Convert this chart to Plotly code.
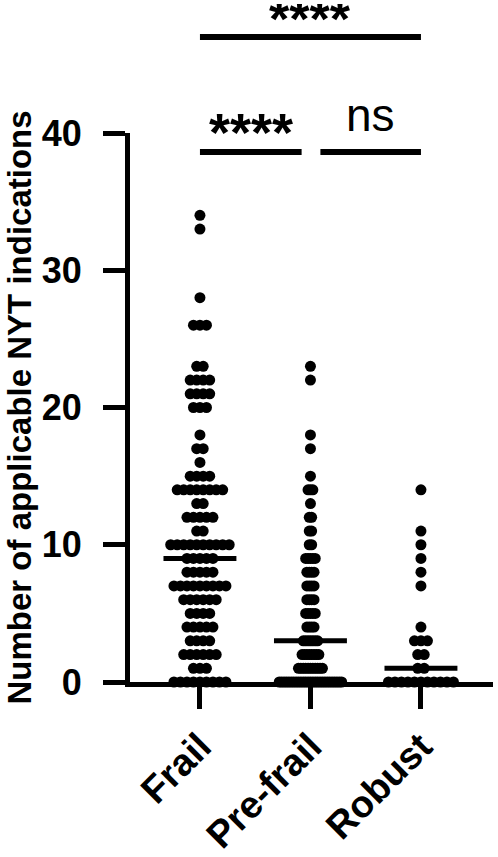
import numpy as np
import plotly.graph_objects as go

# ---------------- data ----------------
categories = ["Frail", "Pre-frail", "Robust"]

frail_values = [0, 1, 2, 3, 4, 5, 6, 7, 8, 9, 10, 11, 12, 13, 14, 15, 16, 17, 18, 20, 21, 22, 23, 26, 28, 33, 34]
frail_counts = [9, 3, 6, 4, 5, 4, 6, 9, 5, 5, 10, 2, 5, 2, 8, 4, 1, 2, 1, 3, 4, 4, 2, 3, 1, 1, 1]

prefrail_values = [0, 1, 2, 3, 4, 5, 6, 7, 8, 9, 10, 11, 12, 13, 14, 15, 17, 18, 22, 23]
prefrail_counts = [27, 11, 8, 7, 4, 5, 4, 4, 4, 5, 2, 2, 2, 1, 3, 1, 1, 1, 1, 1]

robust_values = [0, 1, 2, 3, 4, 7, 8, 9, 10, 11, 14]
robust_counts = [11, 2, 2, 3, 1, 1, 1, 1, 1, 1, 1]

comparisons = [("Frail", "Robust", "****", 2), ("Frail", "Pre-frail", "****", 1), ("Pre-frail", "Robust", "ns", 1)]

y_ticks = [0, 10, 20, 30, 40]
y_title = "Number of applicable NYT indications"

# ---------------- style ----------------
W, H = 498, 857
M_L, M_R, M_T, M_B = 130, 5, 133, 175
X_RANGE = [-0.633, 2.652]
Y_RANGE = [0, 40]
FONT = "Liberation Sans, Arial, sans-serif"
DOT_SIZE = 11
DOT_STEP_PX = {"Frail": 6.5, "Pre-frail": 2.4, "Robust": 6.5}
MEDIAN_HALF = 0.33

plot_w = W - M_L - M_R
plot_h = H - M_T - M_B
px_per_x = plot_w / (X_RANGE[1] - X_RANGE[0])

groups = {
    "Frail": (frail_values, frail_counts),
    "Pre-frail": (prefrail_values, prefrail_counts),
    "Robust": (robust_values, robust_counts),
}

fig = go.Figure()

for gi, cat in enumerate(categories):
    vals, cnts = groups[cat]
    step = DOT_STEP_PX[cat] / px_per_x
    xs, ys = [], []
    for v, n in zip(vals, cnts):
        for k in range(n):
            xs.append(gi + (k - (n - 1) / 2) * step)
            ys.append(v)
    fig.add_trace(go.Scatter(
        x=xs, y=ys, mode="markers",
        marker=dict(size=DOT_SIZE, color="black", line=dict(width=0)),
        cliponaxis=False, showlegend=False, hoverinfo="skip",
    ))
    full = np.repeat(vals, cnts)
    med = float(np.median(full))
    fig.add_trace(go.Scatter(
        x=[gi - MEDIAN_HALF, gi + MEDIAN_HALF], y=[med, med], mode="lines",
        line=dict(color="black", width=5), showlegend=False, hoverinfo="skip",
    ))

# significance bars
def paper_y(py):
    return (H - M_B - py) / plot_h

level_line_py = {2: 37, 1: 152}
for a, b, txt, lvl in comparisons:
    ia, ib = categories.index(a), categories.index(b)
    x0, x1 = ia, ib
    if lvl == 1:
        if ia == 0:
            x1 = ib - 0.08
        else:
            x0 = ia + 0.09
    yl = paper_y(level_line_py[lvl])
    fig.add_shape(type="line", xref="x", yref="paper", x0=x0, x1=x1, y0=yl, y1=yl,
                  line=dict(color="black", width=6))
    if txt == "ns":
        fig.add_annotation(x=(x0 + x1) / 2, y=paper_y(level_line_py[lvl] - 37), xref="x", yref="paper",
                           text=txt, showarrow=False, yanchor="middle",
                           font=dict(family=FONT, size=46, color="black"))
    elif lvl == 2:
        fig.add_annotation(x=(x0 + x1) / 2, y=paper_y(3), xref="x", yref="paper",
                           text=txt, showarrow=False, yanchor="top", borderpad=0,
                           height=30, valign="middle",
                           font=dict(family=FONT, size=52, color="black", weight="bold"))
    else:
        fig.add_annotation(x=(x0 + x1) / 2, y=paper_y(level_line_py[lvl] - 20), xref="x", yref="paper",
                           text=txt, showarrow=False, yanchor="middle",
                           font=dict(family=FONT, size=54, color="black", weight="bold"))

# y title as annotation
fig.add_annotation(x=(19 - M_L) / plot_w, y=0.5, xref="paper", yref="paper",
                   text=y_title, textangle=-90, showarrow=False,
                   xanchor="center", yanchor="middle",
                   font=dict(family=FONT, size=33, color="black", weight="bold"))

fig.update_layout(
    width=W, height=H,
    margin=dict(l=M_L, r=M_R, t=M_T, b=M_B, autoexpand=False),
    plot_bgcolor="white", paper_bgcolor="white",
    font=dict(family=FONT, color="black"),
    showlegend=False,
    xaxis=dict(
        range=X_RANGE, tickmode="array", tickvals=list(range(len(categories))), ticktext=categories,
        tickangle=-45, ticks="outside", ticklen=22, tickwidth=5, tickcolor="black",
        showline=True, linewidth=5, linecolor="black", showgrid=False, zeroline=False,
        tickfont=dict(family=FONT, size=38, color="black", weight="bold"),
        layer="below traces", automargin=False,
    ),
    yaxis=dict(
        range=Y_RANGE, tickmode="array", tickvals=y_ticks, ticktext=[str(t) for t in y_ticks],
        ticks="outside", ticklen=22, tickwidth=5, tickcolor="black",
        showline=True, linewidth=5, linecolor="black", showgrid=False, zeroline=False,
        tickfont=dict(family=FONT, size=36, color="black", weight="bold"),
        ticklabelstandoff=14,
        layer="below traces", automargin=False,
    ),
)

fig.write_html("out.html", config={"displayModeBar": False},
               post_script="document.body.style.margin='0';document.body.style.overflow='hidden';")
